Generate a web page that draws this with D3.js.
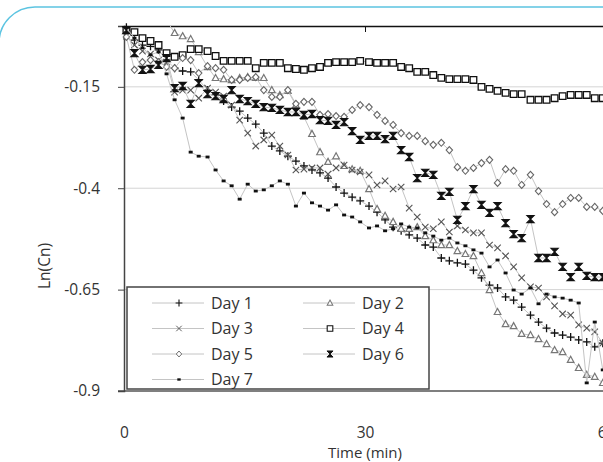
<!DOCTYPE html>
<meta charset="utf-8">
<head>
  <title>Ln(Cn) vs time</title>
</head>

<style>
body {
  margin: 0;
  background: #fff;
  font-family: "Open Sans", "Noto Sans", sans-serif;
}
text {
  fill: #333;
}
</style>

<body>
  <svg width="603" height="462"></svg>

  <script src="https://cdnjs.cloudflare.com/ajax/libs/d3/7.8.5/d3.min.js"></script>

  <script>
  // sampling times (min)
  var times = [0.3, 1.3, 2.3, 3.3, 4.3, 5.3, 6.3, 7.3, 8.3, 9.3,
    10.4, 11.4, 12.4, 13.4, 14.4, 15.4, 16.4, 17.4, 18.4, 19.4,
    20.4, 21.4, 22.4, 23.4, 24.4, 25.4, 26.4, 27.4, 28.4, 29.4,
    30.5, 31.5, 32.5, 33.5, 34.5, 35.5, 36.5, 37.5, 38.5, 39.5,
    40.5, 41.5, 42.5, 43.5, 44.5, 45.5, 46.5, 47.5, 48.5, 49.5,
    50.6, 51.6, 52.6, 53.6, 54.6, 55.6, 56.6, 57.6, 58.6, 59.6];

  var day1 = [-0.003, -0.035, -0.047, -0.050, -0.059, -0.084, -0.104, -0.111, -0.113, -0.133,
    -0.158, -0.170, -0.185, -0.200, -0.210, -0.227, -0.242, -0.264, -0.296, -0.308,
    -0.321, -0.333, -0.345, -0.355, -0.362, -0.375, -0.397, -0.412, -0.422, -0.431,
    -0.444, -0.459, -0.478, -0.496, -0.505, -0.515, -0.523, -0.540, -0.545, -0.572,
    -0.579, -0.584, -0.587, -0.602, -0.621, -0.639, -0.646, -0.668, -0.676, -0.693,
    -0.713, -0.730, -0.745, -0.757, -0.762, -0.767, -0.774, -0.779, -0.791, -0.782];

  var day2 = [0.005, 0.010, 0.015, 0.020, 0.020, 0.014, -0.017, -0.025, -0.032, -0.064,
    -0.101, -0.128, -0.131, -0.133, -0.128, -0.126, -0.128, -0.128, -0.158, -0.170,
    -0.160, -0.195, -0.224, -0.266, -0.311, -0.335, -0.321, -0.345, -0.353, -0.357,
    -0.402, -0.451, -0.468, -0.483, -0.500, -0.500, -0.496, -0.518, -0.528, -0.540,
    -0.540, -0.555, -0.562, -0.567, -0.609, -0.651, -0.705, -0.735, -0.740, -0.759,
    -0.762, -0.772, -0.784, -0.799, -0.804, -0.823, -0.843, -0.860, -0.865, -0.880];

  var day3 = [-0.025, -0.047, -0.062, -0.069, -0.084, -0.089, -0.163, -0.158, -0.158, -0.178,
    -0.153, -0.163, -0.173, -0.195, -0.232, -0.264, -0.296, -0.281, -0.269, -0.296,
    -0.318, -0.355, -0.353, -0.350, -0.350, -0.365, -0.350, -0.343, -0.355, -0.360,
    -0.367, -0.392, -0.382, -0.402, -0.397, -0.449, -0.471, -0.496, -0.500, -0.483,
    -0.508, -0.493, -0.503, -0.510, -0.510, -0.540, -0.547, -0.567, -0.594, -0.621,
    -0.643, -0.646, -0.668, -0.690, -0.710, -0.713, -0.737, -0.745, -0.754, -0.782];

  var day4 = [-0.010, -0.015, -0.030, -0.037, -0.047, -0.067, -0.076, -0.072, -0.057, -0.057,
    -0.062, -0.074, -0.086, -0.086, -0.086, -0.086, -0.104, -0.091, -0.091, -0.091,
    -0.104, -0.106, -0.108, -0.104, -0.101, -0.091, -0.089, -0.089, -0.089, -0.086,
    -0.089, -0.091, -0.091, -0.091, -0.101, -0.104, -0.113, -0.113, -0.121, -0.128,
    -0.131, -0.131, -0.131, -0.133, -0.150, -0.155, -0.160, -0.165, -0.168, -0.168,
    -0.182, -0.182, -0.182, -0.178, -0.173, -0.170, -0.170, -0.170, -0.178, -0.178];

  var day5 = [-0.027, -0.108, -0.089, -0.084, -0.089, -0.101, -0.104, -0.079, -0.084, -0.116,
    -0.099, -0.104, -0.108, -0.133, -0.133, -0.128, -0.126, -0.158, -0.175, -0.175,
    -0.158, -0.192, -0.187, -0.187, -0.219, -0.217, -0.222, -0.224, -0.207, -0.195,
    -0.200, -0.219, -0.234, -0.244, -0.264, -0.271, -0.271, -0.284, -0.293, -0.288,
    -0.306, -0.348, -0.357, -0.350, -0.338, -0.330, -0.387, -0.353, -0.357, -0.392,
    -0.367, -0.407, -0.439, -0.459, -0.439, -0.424, -0.424, -0.446, -0.446, -0.456];

  var day6 = [-0.010, -0.067, -0.108, -0.106, -0.096, -0.079, -0.153, -0.148, -0.192, -0.141,
    -0.168, -0.173, -0.180, -0.158, -0.180, -0.185, -0.192, -0.200, -0.202, -0.207,
    -0.212, -0.212, -0.219, -0.217, -0.232, -0.234, -0.244, -0.237, -0.259, -0.281,
    -0.271, -0.271, -0.279, -0.271, -0.306, -0.323, -0.375, -0.362, -0.367, -0.419,
    -0.409, -0.478, -0.444, -0.402, -0.441, -0.461, -0.444, -0.486, -0.513, -0.523,
    -0.476, -0.572, -0.572, -0.557, -0.594, -0.619, -0.594, -0.616, -0.619, -0.619];

  var day7 = [-0.005, -0.030, -0.054, -0.071, -0.064, -0.118, -0.182, -0.227, -0.311, -0.321,
    -0.323, -0.355, -0.382, -0.394, -0.427, -0.390, -0.407, -0.404, -0.394, -0.382,
    -0.390, -0.444, -0.412, -0.436, -0.444, -0.454, -0.441, -0.466, -0.471, -0.483,
    -0.498, -0.493, -0.505, -0.500, -0.488, -0.496, -0.498, -0.510, -0.518, -0.528,
    -0.523, -0.535, -0.542, -0.552, -0.560, -0.594, -0.577, -0.609, -0.651, -0.661,
    -0.646, -0.685, -0.661, -0.668, -0.671, -0.676, -0.683, -0.880, -0.730, -0.848];

  var seriesNames = ['Day 1', 'Day 2', 'Day 3', 'Day 4', 'Day 5', 'Day 6', 'Day 7'];
  var seriesValues = [day1, day2, day3, day4, day5, day6, day7];

  var yTicks = [-0.15, -0.4, -0.65, -0.9];
  var yTickLabels = ['-0.15', '-0.4', '-0.65', '-0.9'];
  var xTicks = [0, 30, 60];
  var xTickLabels = ['0', '30', '60'];

  var svg = d3.select('svg');

  // rounded frame of the figure
  svg.append('rect')
    .attr('x', -1).attr('y', 7)
    .attr('width', 700).attr('height', 600)
    .attr('rx', 36)
    .attr('fill', 'none')
    .attr('stroke', '#5cc4e1')
    .attr('stroke-width', 1.5);

  var x = d3.scaleLinear().domain([0, 60]).range([124, 606]);
  var y = d3.scaleLinear().domain([-0.9, 0]).range([391, 26]);

  svg.append('defs').append('clipPath').attr('id', 'plot')
    .append('rect')
    .attr('x', x(0)).attr('y', y(0))
    .attr('width', 700).attr('height', y(-0.9) - y(0));

  // gridlines
  svg.append('g')
    .selectAll('line')
    .data(yTicks.slice(0, 3))
    .enter()
    .append('line')
    .attr('x1', x(0)).attr('x2', 603)
    .attr('y1', function(d) { return y(d); })
    .attr('y2', function(d) { return y(d); })
    .attr('stroke', '#d4d4d4')
    .attr('stroke-width', 1);

  // bottom border
  svg.append('line')
    .attr('x1', x(0) - 6).attr('x2', 603)
    .attr('y1', y(-0.9)).attr('y2', y(-0.9))
    .attr('stroke', '#555')
    .attr('stroke-width', 1.5);

  // y axis
  var yAxis = svg.append('g')
    .attr('transform', 'translate(' + x(0) + ',0)')
    .call(d3.axisLeft(y)
      .tickValues(yTicks)
      .tickFormat(function(d, i) { return yTickLabels[i]; })
      .tickSize(6)
      .tickPadding(18));
  yAxis.select('.domain').attr('stroke', '#444').attr('stroke-width', 1.5);
  yAxis.selectAll('.tick line').attr('stroke', '#444');
  yAxis.selectAll('text')
    .style('font-family', '"Open Sans", sans-serif')
    .style('font-size', '15.5px')
    .attr('fill', '#333');

  // x axis line at the top (crosses at 0)
  var xTop = svg.append('g')
    .attr('transform', 'translate(0,' + y(0) + ')')
    .call(d3.axisBottom(x)
      .tickValues(xTicks)
      .tickFormat('')
      .tickSizeOuter(0)
      .tickSize(6));
  xTop.select('.domain').attr('stroke', '#111').attr('stroke-width', 1.5);
  xTop.selectAll('.tick line').attr('stroke', '#111');

  // x tick labels at the bottom
  var xBottom = svg.append('g')
    .attr('transform', 'translate(0,' + y(-0.9) + ')')
    .call(d3.axisBottom(x)
      .tickValues(xTicks)
      .tickFormat(function(d, i) { return xTickLabels[i]; })
      .tickSize(0)
      .tickPadding(36));
  xBottom.select('.domain').remove();
  xBottom.selectAll('text')
    .style('font-family', '"Open Sans", sans-serif')
    .style('font-size', '15.5px')
    .attr('fill', '#333');

  svg.append('text')
    .attr('x', x(30))
    .attr('y', 458)
    .attr('text-anchor', 'middle')
    .style('font-size', '15px')
    .text('Time (min)');

  svg.append('text')
    .attr('transform', 'translate(50,266) rotate(-90)')
    .attr('text-anchor', 'middle')
    .style('font-size', '15.5px')
    .text('Ln(Cn)');

  // marker shapes
  var markerStyle = [
    { path: 'M-4,0H4M0,-4V4', fill: 'none', stroke: '#111', width: 1.3 },
    { path: 'M0,-3.5L3.3,2.6H-3.3Z', fill: '#fff', stroke: '#777', width: 1.2 },
    { path: 'M-3.2,-3.2L3.2,3.2M-3.2,3.2L3.2,-3.2', fill: 'none', stroke: '#555', width: 1.1 },
    { path: 'M-3.3,-3.3H3.3V3.3H-3.3Z', fill: '#fff', stroke: '#111', width: 1.3 },
    { path: 'M0,-3.5L3.2,0L0,3.5L-3.2,0Z', fill: '#fff', stroke: '#666', width: 1.1 },
    { path: 'M-3.6,-3.6L3.6,-3.6L-3.6,3.6L3.6,3.6Z', fill: '#111', stroke: '#111', width: 1.1 },
    { path: 'M-2,-1.4H2V1.4H-2Z', fill: '#111', stroke: 'none', width: 0 }
  ];

  var line = d3.line()
    .x(function(d) { return x(d.t); })
    .y(function(d) { return y(d.v); });

  seriesValues.forEach(function(vals, s) {
    var pts = vals.map(function(v, i) { return { t: times[i], v: v }; });
    var g = svg.append('g').attr('class', 'series');

    g.append('path')
      .datum(pts)
      .attr('clip-path', 'url(#plot)')
      .attr('fill', 'none')
      .attr('stroke', '#c4c4c4')
      .attr('stroke-width', 1)
      .attr('d', line);

    g.selectAll('path.marker')
      .data(pts.filter(function(d) { return d.v <= 0; }))
      .enter()
      .append('path')
      .attr('class', 'marker')
      .attr('transform', function(d) { return 'translate(' + x(d.t) + ',' + y(d.v) + ')'; })
      .attr('d', markerStyle[s].path)
      .attr('fill', markerStyle[s].fill)
      .attr('stroke', markerStyle[s].stroke)
      .attr('stroke-width', markerStyle[s].width);
  });

  // legend
  var legend = svg.append('g');
  legend.append('rect')
    .attr('x', 127).attr('y', 287)
    .attr('width', 302).attr('height', 102)
    .attr('fill', '#fff')
    .attr('stroke', '#444')
    .attr('stroke-width', 1.5);

  var items = legend.selectAll('g.item')
    .data(seriesNames)
    .enter()
    .append('g')
    .attr('class', 'item')
    .attr('transform', function(d, i) {
      return 'translate(' + (i % 2 === 0 ? 152 : 303) + ',' + (303 + Math.floor(i / 2) * 25.5) + ')';
    });

  items.append('line')
    .attr('x1', 0).attr('x2', 52)
    .attr('stroke', '#c4c4c4')
    .attr('stroke-width', 1);

  items.append('path')
    .attr('transform', 'translate(27,0) scale(0.85)')
    .attr('d', function(d, i) { return markerStyle[i].path; })
    .attr('fill', function(d, i) { return markerStyle[i].fill; })
    .attr('stroke', function(d, i) { return markerStyle[i].stroke; })
    .attr('stroke-width', function(d, i) { return markerStyle[i].width; });

  items.append('text')
    .attr('x', 59)
    .attr('dy', '0.35em')
    .style('font-size', '16px')
    .text(function(d) { return d; });

  </script>
</body>
</html>
